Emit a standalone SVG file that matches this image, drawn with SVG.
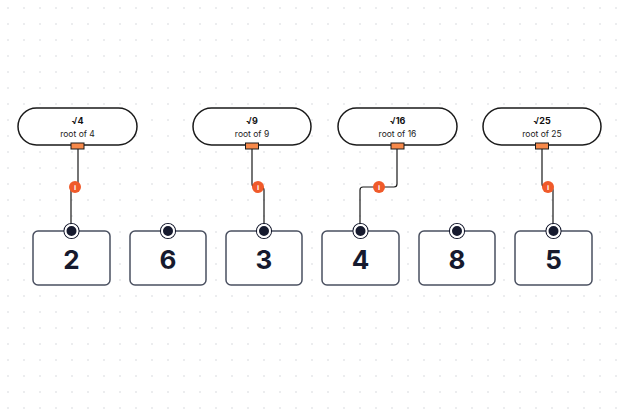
<svg xmlns="http://www.w3.org/2000/svg" width="620" height="415" viewBox="0 0 620 415">
<defs>
<pattern id="dots" width="16" height="16" patternUnits="userSpaceOnUse"><circle cx="8" cy="8" r="0.8" fill="#d4d6da"/></pattern>
<style>
.pill{fill:#fff;stroke:#1a1a1a;stroke-width:1.5}
.port{fill:#f7894a;stroke:#1a1a1a;stroke-width:1}
.t1{font-family:"Inter","Liberation Sans",sans-serif;font-size:9px;font-weight:bold;fill:#111;text-anchor:middle}
.t2{font-family:"Inter","Liberation Sans",sans-serif;font-size:8.5px;fill:#222;text-anchor:middle}
.box{fill:#fff;stroke:#4a5060;stroke-width:1.5}
.num{font-family:"Inter","Liberation Sans",sans-serif;font-size:26px;font-weight:bold;fill:#161a2e;text-anchor:middle}
.pin{fill:#161a2e;stroke:#fff;stroke-width:2}
.pinring{fill:none;stroke:#161a2e;stroke-width:1.2}
.wire{fill:none;stroke:#1a1a1a;stroke-width:1.2}
.info{fill:#f05a2a}
.it{font-family:"Liberation Sans",sans-serif;font-size:8px;font-weight:bold;fill:#fff;text-anchor:middle}
</style>
</defs>
<rect width="620" height="415" fill="#fff"/>
<rect width="620" height="415" fill="url(#dots)"/>
<g id="connectors">
<path class="wire" d="M78,149 V184 q0,3 -3,3 H74 q-3,0 -3,3 V225"/>
<path class="wire" d="M252,149 V184 q0,3 3,3 H261 q3,0 3,3 V225"/>
<path class="wire" d="M397,149 V184 q0,3 -3,3 H363 q-3,0 -3,3 V225"/>
<path class="wire" d="M542,149 V184 q0,3 3,3 H550 q3,0 3,3 V225"/>
<g><circle class="info" cx="75" cy="187" r="6"/><text class="it" x="75" y="190">i</text></g>
<g><circle class="info" cx="258" cy="187" r="6"/><text class="it" x="258" y="190">i</text></g>
<g><circle class="info" cx="379" cy="187" r="6"/><text class="it" x="379" y="190">i</text></g>
<g><circle class="info" cx="548" cy="187" r="6"/><text class="it" x="548" y="190">i</text></g>
</g>
<g id="q4"><rect class="pill" x="18" y="108" width="119" height="37" rx="18.5"/><text class="t1" x="77.5" y="124">√4</text><text class="t2" x="77.5" y="137">root of 4</text><rect class="port" x="71" y="143" width="13" height="6"/></g>
<g id="q9"><rect class="pill" x="193" y="108" width="118" height="37" rx="18.5"/><text class="t1" x="252" y="124">√9</text><text class="t2" x="252" y="137">root of 9</text><rect class="port" x="245.5" y="143" width="13" height="6"/></g>
<g id="q16"><rect class="pill" x="338" y="108" width="119" height="37" rx="18.5"/><text class="t1" x="397.5" y="124">√16</text><text class="t2" x="397.5" y="137">root of 16</text><rect class="port" x="391" y="143" width="13" height="6"/></g>
<g id="q25"><rect class="pill" x="483" y="108" width="118" height="37" rx="18.5"/><text class="t1" x="542" y="124">√25</text><text class="t2" x="542" y="137">root of 25</text><rect class="port" x="535.5" y="143" width="13" height="6"/></g>
<g id="a2"><rect class="box" x="33" y="231" width="77" height="54" rx="5"/><text class="num" x="71.5" y="269">2</text><circle class="pinring" cx="71.5" cy="231" r="7.5"/><circle class="pin" cx="71.5" cy="231" r="6"/></g>
<g id="a6"><rect class="box" x="130" y="231" width="76" height="54" rx="5"/><text class="num" x="168" y="269">6</text><circle class="pinring" cx="168" cy="231" r="7.5"/><circle class="pin" cx="168" cy="231" r="6"/></g>
<g id="a3"><rect class="box" x="226" y="231" width="76" height="54" rx="5"/><text class="num" x="264" y="269">3</text><circle class="pinring" cx="264" cy="231" r="7.5"/><circle class="pin" cx="264" cy="231" r="6"/></g>
<g id="a4"><rect class="box" x="322" y="231" width="77" height="54" rx="5"/><text class="num" x="360.5" y="269">4</text><circle class="pinring" cx="360.5" cy="231" r="7.5"/><circle class="pin" cx="360.5" cy="231" r="6"/></g>
<g id="a8"><rect class="box" x="419" y="231" width="76" height="54" rx="5"/><text class="num" x="457" y="269">8</text><circle class="pinring" cx="457" cy="231" r="7.5"/><circle class="pin" cx="457" cy="231" r="6"/></g>
<g id="a5"><rect class="box" x="515" y="231" width="77" height="54" rx="5"/><text class="num" x="553.5" y="269">5</text><circle class="pinring" cx="553.5" cy="231" r="7.5"/><circle class="pin" cx="553.5" cy="231" r="6"/></g>
</svg>
